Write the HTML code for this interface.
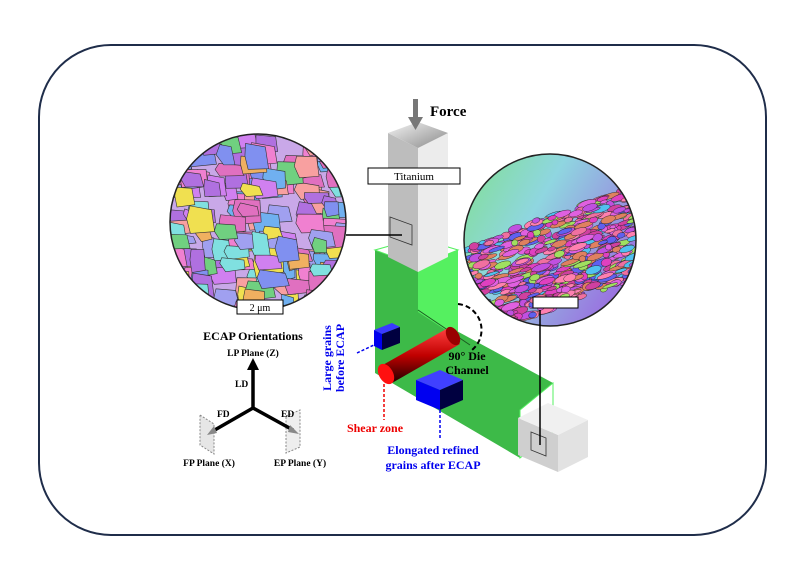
<!DOCTYPE html>
<html><head><meta charset="utf-8"><style>
html,body{margin:0;padding:0;background:#fff;}
svg{display:block;}
text{font-family:"Liberation Serif",serif;font-weight:bold;}
</style></head><body>
<svg id="s" width="804" height="574" viewBox="0 0 804 574" xmlns="http://www.w3.org/2000/svg">
<defs>
<clipPath id="cl"><circle cx="258" cy="222" r="88"/></clipPath>
<clipPath id="cr"><circle cx="550" cy="240" r="86"/></clipPath>
<linearGradient id="rg" x1="0" y1="0" x2="1" y2="0.6">
<stop offset="0" stop-color="#7fe08a"/><stop offset="0.45" stop-color="#8fd6e0"/><stop offset="1" stop-color="#9a70e0"/></linearGradient>
<linearGradient id="cyl" x1="0" y1="0" x2="0" y2="1">
<stop offset="0" stop-color="#ff4040"/><stop offset="0.5" stop-color="#c00000"/><stop offset="1" stop-color="#200000"/></linearGradient>
<linearGradient id="top" x1="0" y1="0" x2="1" y2="1"><stop offset="0" stop-color="#f4f4f4"/><stop offset="1" stop-color="#8a8a8a"/></linearGradient>
</defs>
<rect x="39" y="45" width="727" height="490" rx="72" fill="#fff" stroke="#1f2d4a" stroke-width="2"/>

<g clip-path="url(#cl)"><rect x="160" y="130" width="200" height="190" fill="#c9a8e8"/><g id="gl"></g></g>
<circle cx="258" cy="222" r="88" fill="none" stroke="#222" stroke-width="1.5"/>
<rect x="237" y="300" width="46" height="14" fill="#fff" stroke="#000"/>
<text x="260" y="311" font-size="10" text-anchor="middle" style="font-weight:normal">2 μm</text>

<g clip-path="url(#cr)"><rect x="460" y="150" width="180" height="180" fill="url(#rg)"/><g id="gr"></g></g>
<circle cx="550" cy="240" r="86" fill="none" stroke="#222" stroke-width="1.5"/>
<rect x="533" y="297" width="45" height="11" fill="#fff" stroke="#000"/>

<polygon points="375,250 418,266 418,310 553,383 553,432 520,458 375,373" fill="#3dba48"/>
<polygon points="418,266 458,250 458,338 418,312" fill="#55f060"/>
<polygon points="375,250 418,266 458,250 418,238" fill="#fff" stroke="#55f060"/>
<line x1="418" y1="310" x2="470" y2="345" stroke="#1a5a20" stroke-width="1"/>
<polygon points="520,410 553,383 553,432 520,458" fill="#fff" stroke="#55f060"/>

<polygon points="388,133 418,148 418,272 388,257" fill="#bdbdbd"/>
<polygon points="418,148 448,133 448,257 418,272" fill="#ececec"/>
<polygon points="388,133 418,122 448,133 418,148" fill="url(#top)"/>
<rect x="413" y="99" width="5" height="20" fill="#777"/><polygon points="408,117 423,117 415.5,130" fill="#777"/>
<polygon points="390,217 412,225 412,245 390,237" fill="none" stroke="#333" stroke-width="0.8"/>
<rect x="368" y="168" width="92" height="16" fill="#fff" stroke="#000"/>
<text x="414" y="180" font-size="11" text-anchor="middle" style="font-weight:normal">Titanium</text>
<text x="430" y="116" font-size="15">Force</text>

<polygon points="518,418 558,435 558,472 518,455" fill="#cfcfcf"/>
<polygon points="558,435 588,420 588,457 558,472" fill="#e2e2e2"/>
<polygon points="518,418 548,403 588,420 558,435" fill="#f0f0f0"/>
<polygon points="531,432 546,438 546,456 531,450" fill="none" stroke="#333" stroke-width="0.8"/>

<line x1="346" y1="235" x2="402" y2="235" stroke="#000" stroke-width="1.5"/>
<line x1="540" y1="310" x2="540" y2="445" stroke="#000" stroke-width="1.5"/>
<path d="M458,304 A26,26 0 0 1 472,350" fill="none" stroke="#000" stroke-width="2" stroke-dasharray="5,3"/>

<polygon points="374,330 392,323 400,327 382,334" fill="#3a3aff"/>
<polygon points="374,330 382,334 382,350 374,346" fill="#0000ee"/>
<polygon points="382,334 400,327 400,343 382,350" fill="#000040"/>
<polygon points="416,380 440,370 463,380 440,390" fill="#4040ff"/>
<polygon points="416,380 440,390 440,410 416,400" fill="#0000f0"/>
<polygon points="440,390 463,380 463,400 440,410" fill="#000040"/>

<polygon points="381,366 448,328 460,344 392,383" fill="url(#cyl)"/>
<ellipse cx="453" cy="336" rx="6" ry="10" transform="rotate(-30 453 336)" fill="#900"/>
<ellipse cx="386" cy="374" rx="7" ry="11" transform="rotate(-30 386 374)" fill="#ff1010"/>

<text x="467" y="360" font-size="12" text-anchor="middle">90° Die</text>
<text x="467" y="374" font-size="12" text-anchor="middle">Channel</text>

<line x1="384" y1="384" x2="384" y2="420" stroke="#e00" stroke-width="1.5" stroke-dasharray="3,2"/>
<text x="375" y="432" font-size="12" fill="#e00" text-anchor="middle">Shear zone</text>
<line x1="440" y1="410" x2="440" y2="440" stroke="#0000ee" stroke-width="1.5" stroke-dasharray="3,2"/>
<text x="433" y="454" font-size="12" fill="#0000ee" text-anchor="middle">Elongated refined</text>
<text x="433" y="469" font-size="12" fill="#0000ee" text-anchor="middle">grains after ECAP</text>
<line x1="357" y1="353" x2="374" y2="345" stroke="#0000ee" stroke-width="1.5" stroke-dasharray="3,2"/>
<text transform="translate(331,358) rotate(-90)" font-size="12" fill="#0000ee" text-anchor="middle">Large grains</text>
<text transform="translate(344,358) rotate(-90)" font-size="12" fill="#0000ee" text-anchor="middle">before ECAP</text>

<text x="253" y="340" font-size="12" text-anchor="middle">ECAP Orientations</text>
<text x="253" y="356" font-size="9.5" text-anchor="middle">LP Plane (Z)</text>
<polygon points="200,415 214,424 214,454 200,445" fill="#e6e6e6" stroke="#888" stroke-dasharray="2,1.5"/>
<polygon points="286,416 300,410 300,447 286,453" fill="#eee" stroke="#888" stroke-dasharray="2,1.5"/>
<line x1="253" y1="408" x2="253" y2="368" stroke="#000" stroke-width="3.5"/>
<polygon points="247,370 253,358 259,370" fill="#000"/>
<line x1="253" y1="408" x2="213" y2="431" stroke="#000" stroke-width="3.5"/>
<line x1="253" y1="408" x2="293" y2="430" stroke="#000" stroke-width="3.5"/>
<polygon points="207,435 214,426 217,433" fill="#888"/>
<polygon points="299,434 290,425 288,432" fill="#888"/>
<text x="235" y="387" font-size="9.5">LD</text>
<text x="217" y="417" font-size="9.5">FD</text>
<text x="281" y="417" font-size="9.5">ED</text>
<text x="209" y="466" font-size="9.5" text-anchor="middle">FP Plane (X)</text>
<text x="300" y="466" font-size="9.5" text-anchor="middle">EP Plane (Y)</text>
</svg>
<script>
(function(){
var ns="http://www.w3.org/2000/svg",seed=7;
function r(){seed=(seed*16807)%2147483647;return seed/2147483647;}
var gl=document.getElementById("gl");
var pc=["#f080d0","#8090f0","#b070e0","#f0e050","#70d080","#f8a0a0","#70b0f0","#d080f0","#f0b060","#80e0e0","#e070c0","#a0a0f0"];
for(var i=0;i<220;i++){var x=162+r()*196,y=128+r()*190,w=10+r()*16,h=10+r()*16;
var p=document.createElementNS(ns,"polygon");
p.setAttribute("points",[x,y,x+w,y+r()*4,x+w+r()*4,y+h,x+r()*4,y+h+r()*3,x-r()*4,y+h/2].join(" "));
p.setAttribute("fill",pc[Math.floor(r()*pc.length)]);p.setAttribute("stroke","#333");p.setAttribute("stroke-width","0.6");gl.appendChild(p);}
var gr=document.getElementById("gr");
var rc=["#e040c0","#f070a0","#c050e0","#e08060","#6060f0","#e060e0","#ff80b0","#50c0f0","#a0e060","#d040a0"];
for(var j=0;j<700;j++){var u=r(),v=r();var x=465+u*175;var base=245-(x-465)*0.35;var y=base+v*95;
var e=document.createElementNS(ns,"ellipse");
e.setAttribute("cx",x);e.setAttribute("cy",y);e.setAttribute("rx",3+r()*7);e.setAttribute("ry",1.5+r()*2.5);
e.setAttribute("transform","rotate(-18 "+x+" "+y+")");
e.setAttribute("fill",rc[Math.floor(r()*rc.length)]);e.setAttribute("stroke","#222");e.setAttribute("stroke-width","0.4");gr.appendChild(e);}
})();
</script>
</body></html>
